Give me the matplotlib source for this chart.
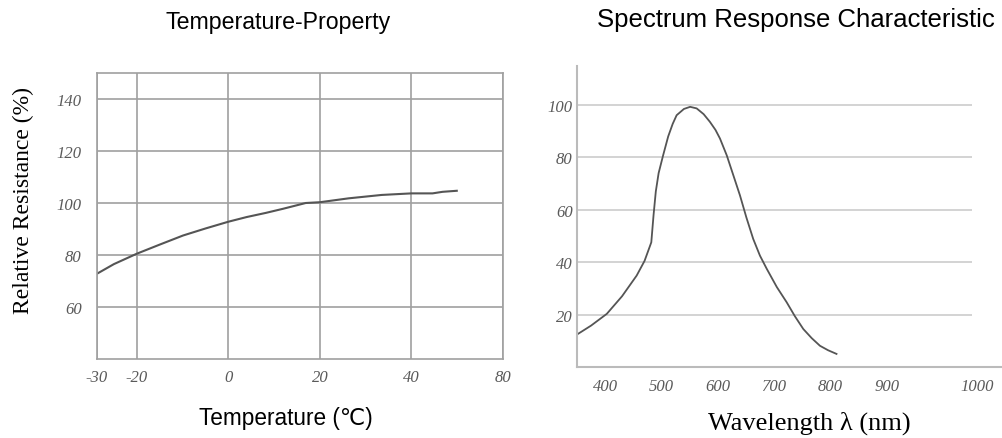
import numpy as np
import matplotlib.pyplot as plt

# Temperature-Property curve (deg C, relative resistance %)
temp_c = [-28.7, -25, -20, -15, -9.9, -5, 0, 4, 8.2, 12, 16.9, 20, 26.3, 33.5, 40, 44.6, 46.8, 49.9]
rel_res = [72.8, 76.5, 80.5, 84.0, 87.5, 90.2, 92.8, 94.6, 96.2, 97.8, 100.0, 100.3, 101.8, 103.1, 103.7, 103.7, 104.3, 104.7]
temp_ticks = [-28.7, -20, 0, 20, 40, 60]
temp_labels = ['-30', '-20', '0', '20', '40', '80']
res_ticks = [60, 80, 100, 120, 140]

# Spectrum response curve (nm, relative response %)
wavelength = [350, 375, 403, 430, 456, 470, 480, 482, 486, 490, 495, 503, 512, 520, 527, 540, 551,
              562.6, 575, 586, 596, 604, 616, 628, 639.5, 651, 663, 675, 687, 705, 722.5, 737, 752,
              767, 781.6, 796, 811]
response = [12.4, 15.8, 20.3, 27.0, 34.9, 40.5, 46.4, 47.6, 58.0, 67.0, 74.0, 80.8, 88.0, 92.8, 96.1,
            98.5, 99.3, 98.7, 96.5, 93.6, 90.5, 87.2, 80.8, 73.0, 65.5, 57.0, 48.9, 42.5, 37.5, 30.5,
            24.7, 19.4, 14.5, 11.0, 8.1, 6.4, 5.0]
wl_ticks = [400, 500, 600, 700, 800, 900, 1060]
wl_labels = ['400', '500', '600', '700', '800', '900', '1000']
resp_ticks = [20, 40, 60, 80, 100]

W, H = 1002, 439
fig = plt.figure(figsize=(W / 100, H / 100), dpi=100)

line_col = '#555555'
tick_font = dict(family='Liberation Serif', style='italic', size=12, color='#5a5a5a')

# left chart
ax1 = fig.add_axes([97 / W, (H - 360) / H, 406 / W, 286 / H])
ax1.plot(temp_c, rel_res, color=line_col, lw=1.5)
ax1.set_xlim(-28.7, 60)
ax1.set_ylim(40, 150)
ax1.set_xticks(temp_ticks)
ax1.set_xticklabels(temp_labels, fontdict=tick_font)
ax1.set_yticks(res_ticks)
ax1.set_yticklabels([str(v) for v in res_ticks], fontdict=tick_font)
ax1.tick_params(length=0)
ax1.tick_params(axis='x', pad=7)
ax1.tick_params(axis='y', pad=11)
ax1.grid(True, color='#a0a0a0', lw=1.2)
for s in ax1.spines.values():
    s.set_color('#a0a0a0')
    s.set_linewidth(1.2)

# right chart
ax2 = fig.add_axes([577 / W, (H - 368) / H, (W - 577) / W, (368 - 66.7) / H])
ax2.hlines(resp_ticks, 350, 1051, color='#cccccc', lw=1.2)
ax2.plot(wavelength, response, color=line_col, lw=1.3)
ax2.set_xlim(350, 1105)
ax2.set_ylim(0, 115)
ax2.set_xticks(wl_ticks)
ax2.set_xticklabels(wl_labels, fontdict=tick_font)
ax2.set_yticks(resp_ticks)
ax2.set_yticklabels([str(v) for v in resp_ticks], fontdict=tick_font)
ax2.tick_params(length=0)
ax2.tick_params(axis='x', pad=8)
ax2.tick_params(axis='y', pad=3)
ax2.spines['top'].set_visible(False)
ax2.spines['right'].set_visible(False)
for s in ('left', 'bottom'):
    ax2.spines[s].set_color('#bbbbbb')
    ax2.spines[s].set_linewidth(1.5)

fig.text(23 / W, 1 - 201 / H, 'Relative Resistance (%)', ha='center', va='center',
         rotation=90, family='Liberation Serif', size=17)
fig.text(278 / W, 1 - 22 / H, 'Temperature-Property', ha='center', va='center',
         family='Liberation Sans', size=16.7)
fig.text(796 / W, 1 - 20 / H, 'Spectrum Response Characteristic', ha='center', va='center',
         family='Liberation Sans', size=18.5)
fig.text(286 / W, 1 - 419 / H, 'Temperature (\u2103)', ha='center', va='center',
         family=['Liberation Sans', 'DejaVu Sans'], size=16.3)
fig.text(809 / W, 1 - 423 / H, 'Wavelength \u03bb (nm)', ha='center', va='center',
         family='Liberation Serif', size=19)

fig.savefig('out.png', dpi=100)
